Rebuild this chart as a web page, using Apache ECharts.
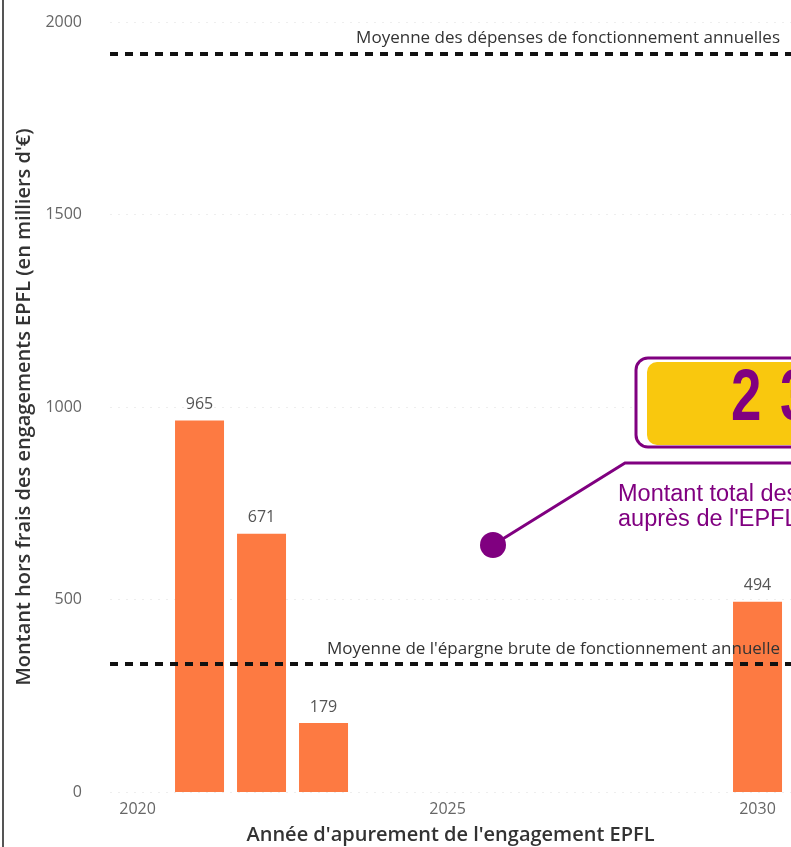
<!DOCTYPE html>
<html>
<head>
<meta charset="utf-8">
<script src="https://cdn.jsdelivr.net/npm/echarts@6/dist/echarts.min.js"></script>
<style>
  html, body { margin: 0; padding: 0; background: #fff; }
  #chart { width: 791px; height: 847px; }
</style>
</head>
<body>
<div id="chart"></div>
<script>
// années d'apurement et montants (milliers d'€)
const years = [2021, 2022, 2023, 2030];
const amounts = [965, 671, 179, 494];
const yearTicks = [2020, 2025, 2030];
const avgDepenses = 1917;
const avgEpargne = 332;

const purple = "#800080";
const bigFont = "bold 72px 'Liberation Sans', Arial, sans-serif";
const noteFont = "23.5px 'Liberation Sans', Arial, sans-serif";
const chart = echarts.init(document.getElementById("chart"), null, { renderer: "canvas" });

chart.setOption({
  backgroundColor: "#fff",
  animation: false,
  textStyle: { fontFamily: "'Open Sans', sans-serif" },
  grid: { left: 110, right: 0, top: 22, bottom: 55, outerBoundsMode: "none", containLabel: false },
  xAxis: {
    type: "value",
    min: 2019.556,
    max: 2030.54,
    name: "Année d'apurement de l'engagement EPFL",
    nameLocation: "middle",
    nameGap: 33,
    nameTextStyle: { color: "#333", fontSize: 20, fontWeight: 600 },
    axisLine: { show: false },
    axisTick: { show: false },
    splitLine: { show: false },
    axisLabel: {
      customValues: yearTicks,
      color: "#666",
      fontSize: 16,
      margin: 9,
      formatter: (v) => String(v),
    },
  },
  yAxis: {
    type: "value",
    min: 0,
    max: 2000,
    interval: 500,
    name: "Montant hors frais des engagements EPFL (en milliers d'€)",
    nameLocation: "middle",
    nameGap: 75,
    nameTextStyle: { color: "#333", fontSize: 20, fontWeight: 600 },
    axisLine: { show: false },
    axisTick: { show: false },
    axisLabel: { color: "#666", fontSize: 16, margin: 28, formatter: (v) => String(v) },
    splitLine: { lineStyle: { color: "#eeeeee", type: [2, 6], width: 1 } },
  },
  series: [
    {
      type: "bar",
      data: years.map((y, i) => [y, amounts[i]]),
      barWidth: 49,
      itemStyle: { color: "#FD7A42" },
      label: { show: true, position: "top", distance: 8, color: "#555", fontSize: 16 },
      markLine: {
        silent: true,
        symbol: "none",
        lineStyle: { color: "#111", width: 4, type: [8, 7] },
        label: {
          position: "insideEndTop",
          color: "#333",
          fontSize: 17,
          distance: [11, 7],
        },
        data: [
          { yAxis: avgDepenses, label: { formatter: "Moyenne des dépenses de fonctionnement annuelles" } },
          { yAxis: avgEpargne, label: { formatter: "Moyenne de l'épargne brute de fonctionnement annuelle" } },
        ],
      },
    },
  ],
  graphic: [
    // cadre à gauche
    { type: "line", z: 100, shape: { x1: 3, y1: 0, x2: 3, y2: 847 }, style: { stroke: "#555", lineWidth: 2 } },
    // encadré du montant total
    { type: "rect", z: 100, shape: { x: 636, y: 358, width: 200, height: 89, r: 12 },
      style: { fill: "#fff", stroke: purple, lineWidth: 3 } },
    { type: "rect", z: 101, shape: { x: 647, y: 362, width: 200, height: 83, r: [10, 0, 0, 10] },
      style: { fill: "#F9C80E" } },
    { type: "text", z: 102, x: 731, y: 364, scaleX: 0.76,
      style: { text: "2", fill: purple, font: bigFont,
        textShadowColor: "#fff", textShadowOffsetX: 3, textShadowOffsetY: 3, textShadowBlur: 0 } },
    { type: "text", z: 102, x: 780, y: 364, scaleX: 0.76,
      style: { text: "3", fill: purple, font: bigFont,
        textShadowColor: "#fff", textShadowOffsetX: 3, textShadowOffsetY: 3, textShadowBlur: 0 } },
    // connecteur
    { type: "polyline", z: 100, shape: { points: [[493, 545], [625, 463], [800, 463]] },
      style: { stroke: purple, lineWidth: 3, fill: null } },
    { type: "circle", z: 100, shape: { cx: 493, cy: 545, r: 13 }, style: { fill: purple } },
    { type: "text", z: 100, x: 618, y: 482.5,
      style: { text: "Montant total des", fill: purple, font: noteFont } },
    { type: "text", z: 100, x: 618, y: 507.5,
      style: { text: "auprès de l'EPFL", fill: purple, font: noteFont } },
  ],
});
</script>
</body>
</html>
